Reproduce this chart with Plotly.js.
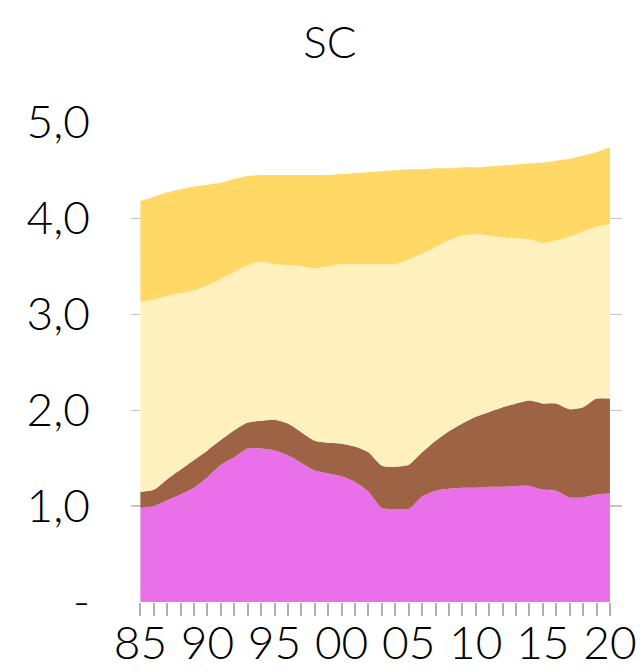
<!DOCTYPE html>
<html><head><meta charset="utf-8">
<script src="https://cdn.plot.ly/plotly-3.0.1.min.js"></script>
<style>html,body{margin:0;padding:0;background:#fff;}#chart{width:643px;height:672px;}</style>
</head><body><div id="chart"></div>
<script>
const years = [1985,1986,1987,1988,1989,1990,1991,1992,1993,1994,1995,1996,1997,1998,1999,2000,2001,2002,2003,2004,2005,2006,2007,2008,2009,2010,2011,2012,2013,2014,2015,2016,2017,2018,2019,2020];
const seriesMagenta = [0.98,1.00,1.06,1.12,1.19,1.30,1.43,1.51,1.60,1.60,1.58,1.53,1.45,1.37,1.34,1.31,1.25,1.15,0.98,0.97,0.97,1.10,1.16,1.18,1.19,1.19,1.20,1.20,1.21,1.21,1.17,1.16,1.09,1.09,1.12,1.13];
const seriesBrown = [0.17,0.17,0.22,0.26,0.29,0.28,0.26,0.28,0.27,0.29,0.32,0.33,0.32,0.31,0.32,0.34,0.37,0.41,0.44,0.44,0.46,0.46,0.52,0.60,0.67,0.74,0.78,0.83,0.86,0.89,0.90,0.91,0.92,0.94,1.00,0.99];
const seriesLight = [1.98,1.98,1.91,1.84,1.77,1.72,1.68,1.65,1.64,1.66,1.62,1.65,1.73,1.80,1.84,1.87,1.90,1.96,2.10,2.11,2.14,2.07,2.02,1.99,1.96,1.90,1.84,1.77,1.72,1.68,1.67,1.70,1.80,1.83,1.79,1.82];
const seriesGold = [1.05,1.07,1.08,1.08,1.08,1.05,1.00,0.97,0.93,0.90,0.93,0.94,0.95,0.97,0.95,0.94,0.95,0.96,0.97,0.98,0.94,0.88,0.82,0.75,0.71,0.70,0.72,0.75,0.77,0.79,0.84,0.83,0.81,0.79,0.78,0.80];
const xTickVals = [1985,1990,1995,2000,2005,2010,2015,2020];
const xTickText = ['85','90','95','00','05','10','15','20'];
const yTickVals = [0,1,2,3,4,5];
const yTickText = ['-','1,0','2,0','3,0','4,0','5,0'];
const titleText = 'SC';

const colors = ['#EA70EA','#9E6245','#FEF1BE','#FFD866'];
const all = [seriesMagenta, seriesBrown, seriesLight, seriesGold];
const traces = all.map((s,i)=>({
  x: years, y: s, type:'scatter', mode:'lines', stackgroup:'one',
  line:{width:0, shape:'spline', smoothing:0.6, color:colors[i]},
  fillcolor: colors[i], hoverinfo:'skip'
}));
const font = {family:'Lato, Inter, "Open Sans", sans-serif', weight:300, color:'#000'};
const layout = {
  width:643, height:672,
  margin:{l:131, r:21, t:122, b:70},
  paper_bgcolor:'#fff', plot_bgcolor:'#fff',
  showlegend:false,
  title:{text:titleText, x:0.513, xanchor:'center', y:0.937, yanchor:'middle', font:Object.assign({size:44}, font)},
  xaxis:{range:[1984.3,2020.9], tickvals:xTickVals, ticktext:xTickText, ticks:'', ticklabelstandoff:10,
    minor:{tickvals:years, ticks:'outside', ticklen:13, tickwidth:2, tickcolor:'#b0b0b0', showgrid:false},
    showgrid:false, zeroline:false, showline:false, tickfont:Object.assign({size:46}, font), fixedrange:true},
  yaxis:{range:[0,5.003], tickvals:yTickVals, ticktext:yTickText, showgrid:true, gridcolor:'#c4c4c4', gridwidth:1.2,
    zeroline:false, showline:false, ticks:'', ticklabelstandoff:40, tickfont:Object.assign({size:46}, font), fixedrange:true}
};
Plotly.newPlot('chart', traces, layout, {displayModeBar:false, staticPlot:true});
</script></body></html>
